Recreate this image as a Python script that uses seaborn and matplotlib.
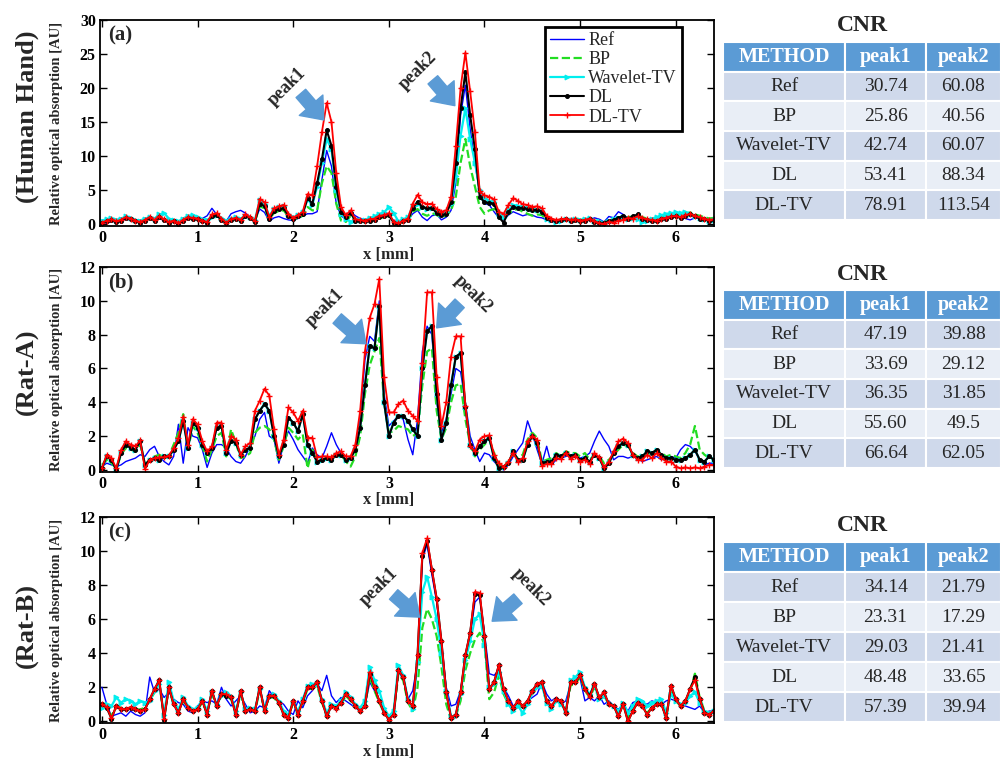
import numpy as np
import pandas as pd
import seaborn as sns
import matplotlib.pyplot as plt

# ---- profile data, sampled every 0.05 mm (rows of 10 = 0.5 mm) ----
STEP = 0.05

# (a) Human Hand
ref_a = [0.0, 0.2, 0.4, 0.3, 0.5, 0.7, 0.6, 0.3, 0.2, 0.5,
         0.8, 0.6, 0.8, 0.5, 0.2, 0.3, 0.2, 0.5, 0.7, 0.9,
         0.6, 0.8, 1.2, 2.3, 1.4, 0.6, 0.4, 1.5, 1.8, 2.0,
         1.6, 1.0, 0.6, 2.2, 1.7, 0.4, 0.9, 1.1, 0.8, 0.6,
         0.5, 0.8, 1.2, 1.5, 1.5, 1.8, 6.5, 10.8, 8.5, 3.0,
         1.2, 0.7, 1.8, 1.2, 0.8, 0.6, 0.4, 0.6, 1.0, 1.1,
         1.3, 0.5, 0.2, 0.4, 0.6, 1.5, 2.0, 1.0, 0.5, 1.2,
         1.4, 0.6, 1.0, 2.0, 6.0, 16.0, 20.4, 14.0, 9.0, 4.5,
         3.0, 2.8, 1.8, 0.9, 0.6, 1.3, 1.8, 1.5, 1.2, 1.4,
         1.3, 1.0, 0.9, 0.6, 0.3, 0.4, 0.5, 0.6, 0.8, 0.7,
         0.5, 0.4, 0.6, 0.9, 0.7, 0.3, 1.1, 0.9, 1.8, 1.4,
         0.8, 1.0, 1.2, 0.9, 0.5, 0.4, 0.6, 0.8, 1.0, 1.2,
         1.3, 1.1, 0.8, 0.6, 0.9, 1.0, 0.7, 0.4, 0.5]
bp_a = [0.3, 0.5, 0.6, 0.4, 0.5, 0.8, 0.7, 0.4, 0.3, 0.5,
        0.8, 0.6, 0.9, 0.7, 0.4, 0.5, 0.3, 0.6, 0.8, 0.9,
        0.7, 0.5, 0.4, 1.1, 1.2, 0.7, 0.3, 0.6, 0.8, 0.6,
        1.1, 0.9, 0.4, 2.6, 2.3, 0.8, 1.6, 1.9, 2.0, 1.1,
        0.6, 0.9, 1.2, 2.5, 2.0, 2.0, 6.0, 8.5, 7.5, 3.0,
        0.5, 0.3, 1.2, 0.4, 0.3, 0.3, 0.5, 0.6, 0.8, 1.0,
        1.2, 0.5, 0.1, 0.3, 0.5, 1.8, 2.2, 1.5, 1.2, 1.6,
        1.3, 1.0, 1.2, 2.0, 4.0, 9.0, 12.5, 8.5, 5.5, 2.5,
        1.5, 2.0, 2.2, 1.2, 0.8, 1.5, 2.0, 2.2, 1.8, 1.5,
        1.2, 1.4, 1.3, 0.7, 0.5, 0.4, 0.6, 0.7, 0.6, 0.8,
        0.7, 0.6, 0.8, 0.5, 0.3, 0.3, 0.5, 0.7, 0.9, 1.1,
        1.0, 1.1, 1.3, 1.0, 0.8, 0.7, 0.8, 1.1, 1.3, 1.5,
        1.6, 1.4, 1.5, 1.7, 1.4, 1.2, 1.0, 0.8, 0.9]
wtv_a = [0.5, 0.7, 0.9, 0.6, 0.8, 1.1, 0.9, 0.6, 0.5, 0.8,
         1.0, 0.8, 1.4, 1.6, 0.8, 0.6, 0.4, 0.8, 1.2, 1.3,
         1.0, 0.7, 0.6, 1.0, 1.3, 0.9, 0.5, 0.8, 1.0, 0.8,
         1.2, 1.0, 0.6, 3.5, 3.0, 1.2, 2.2, 2.5, 2.6, 1.4,
         1.0, 1.3, 1.7, 3.6, 2.8, 5.5, 9.0, 12.5, 11.0, 5.0,
         1.5, 0.8, 0.3, 0.7, 0.6, 0.6, 0.9, 1.1, 1.5, 1.7,
         2.5, 1.6, 0.4, 0.7, 1.0, 2.6, 3.0, 2.5, 2.2, 2.3,
         1.8, 1.5, 1.8, 3.0, 7.0, 13.0, 17.0, 12.5, 9.0, 5.0,
         3.8, 3.4, 3.2, 1.5, 1.0, 2.0, 2.8, 2.6, 2.5, 2.3,
         2.2, 2.0, 1.9, 0.8, 0.6, 0.3, 0.5, 0.7, 0.6, 0.8,
         0.6, 0.7, 0.9, 0.5, 0.4, 0.2, 0.5, 0.7, 0.9, 1.0,
         0.8, 0.9, 0.7, 0.3, 0.5, 0.8, 1.0, 1.3, 1.5, 1.6,
         1.7, 1.6, 1.8, 1.5, 1.2, 0.9, 0.7, 0.5, 0.6]
dl_a = [0.1, 0.4, 0.6, 0.3, 0.5, 0.9, 0.7, 0.4, 0.2, 0.5,
        0.9, 0.5, 1.0, 0.6, 0.2, 0.4, 0.0, 0.5, 0.9, 0.8,
        0.7, 0.4, 0.2, 1.2, 1.3, 0.6, 0.1, 0.6, 0.8, 0.5,
        1.2, 0.9, 0.3, 3.0, 2.6, 0.7, 1.9, 2.2, 2.3, 1.2,
        0.7, 1.1, 1.5, 3.8, 3.0, 6.0, 9.5, 13.8, 11.5, 5.5,
        1.8, 1.0, 1.6, 0.5, 0.4, 0.4, 0.5, 0.6, 1.0, 1.1,
        1.3, 0.2, 0.0, 0.4, 0.6, 2.3, 3.3, 2.5, 2.3, 2.4,
        1.6, 1.3, 1.5, 3.2, 9.0, 17.0, 22.3, 16.0, 11.0, 4.0,
        3.2, 3.1, 3.0, 1.0, 0.2, 1.8, 2.5, 2.3, 2.4, 2.2,
        2.0, 2.1, 1.8, 0.9, 0.6, 0.5, 0.6, 0.7, 0.5, 0.6,
        0.4, 0.5, 0.7, 0.3, 0.1, 0.2, 0.4, 0.6, 0.9, 1.2,
        0.8, 1.1, 1.4, 0.7, 0.6, 0.5, 0.4, 0.7, 0.8, 1.0,
        1.1, 0.9, 1.2, 1.4, 1.1, 0.8, 0.7, 0.5, 0.6]
dltv_a = [0.2, 0.5, 0.7, 0.4, 0.6, 1.0, 0.8, 0.5, 0.3, 0.6,
          1.0, 0.6, 1.1, 0.7, 0.3, 0.5, 0.1, 0.6, 1.0, 0.9,
          0.8, 0.5, 0.3, 1.4, 1.6, 0.8, 0.2, 0.7, 0.9, 0.6,
          1.4, 1.0, 0.4, 3.7, 3.2, 1.0, 2.3, 2.6, 2.8, 1.5,
          0.9, 1.3, 1.8, 4.4, 4.2, 8.5, 13.5, 17.8, 15.0, 7.5,
          2.5, 1.3, 2.0, 0.7, 0.6, 0.5, 0.7, 0.8, 1.2, 1.3,
          1.6, 0.3, 0.1, 0.5, 0.8, 3.0, 4.3, 3.2, 2.9, 3.0,
          2.2, 1.8, 2.0, 4.0, 11.5, 20.0, 25.2, 19.5, 13.5, 4.8,
          4.2, 4.0, 3.6, 1.8, 1.5, 2.8, 3.8, 3.4, 2.9, 2.8,
          2.5, 2.6, 2.3, 1.2, 0.8, 0.6, 0.7, 0.8, 0.6, 0.7,
          0.5, 0.6, 0.8, 0.4, 0.1, 0.0, 0.3, 0.2, 0.5, 0.6,
          0.9, 0.8, 1.1, 0.9, 0.7, 0.6, 0.5, 0.8, 0.9, 1.1,
          1.2, 1.0, 1.3, 1.5, 1.2, 1.0, 0.8, 0.6, 0.7]

# (b) Rat-A
ref_b = [0.2, 0.4, 0.3, 0.2, 0.3, 0.5, 0.6, 0.7, 0.9, 0.8,
         1.2, 1.4, 0.8, 0.5, 0.3, 0.8, 2.7, 0.4, 2.5, 2.0,
         1.9, 1.2, 0.15, 1.0, 1.5, 1.5, 1.3, 0.8, 0.5, 0.4,
         0.8, 1.4, 2.0, 3.0, 3.4, 2.0, 1.8, 0.4, 1.5, 2.3,
         1.8, 1.2, 0.8, 0.4, 1.3, 0.9, 0.7, 1.4, 2.2, 1.5,
         1.0, 0.6, 0.8, 1.3, 3.0, 6.5, 7.9, 7.6, 10.0, 4.5,
         2.6, 2.9, 3.2, 3.0, 1.8, 0.9, 3.0, 7.0, 8.5, 8.0,
         4.0, 2.2, 3.0, 4.5, 6.0, 5.8, 4.0, 2.0, 1.2, 0.5,
         1.0, 0.9, 0.5, 0.2, 0.0, 0.3, 0.8, 1.2, 1.6, 2.9,
         2.1, 1.2, 0.35, 1.4, 0.3, 0.6, 0.7, 0.8, 0.9, 0.8,
         0.7, 0.8, 1.0, 1.7, 2.3, 1.8, 1.4, 0.6, 0.8, 0.8,
         0.7, 0.8, 0.7, 0.5, 0.6, 0.7, 0.8, 0.6, 0.7, 0.8,
         0.7, 1.2, 1.5, 1.4, 1.1, 0.6, 0.3, 0.4, 0.4]
bp_b = [0.3, 0.6, 0.4, 0.1, 0.9, 1.3, 1.2, 1.1, 1.5, 0.3,
        0.6, 0.8, 0.9, 0.7, 0.8, 1.5, 2.2, 3.3, 1.2, 2.6,
        2.2, 1.4, 0.5, 1.2, 2.0, 2.2, 0.8, 2.4, 1.6, 0.7,
        0.8, 1.0, 2.2, 2.5, 2.6, 2.4, 1.8, 0.6, 1.4, 2.5,
        2.2, 1.8, 2.1, 0.1, 1.2, 0.5, 0.6, 0.7, 0.8, 0.9,
        0.9, 0.5, 0.2, 0.8, 2.0, 4.5, 6.2, 7.0, 7.8, 4.0,
        2.2, 2.3, 2.6, 2.5, 2.4, 2.0, 2.2, 5.0, 7.0, 7.2,
        3.5, 1.8, 2.5, 4.0, 5.0, 5.1, 3.0, 1.5, 0.8, 1.2,
        1.5, 1.8, 1.0, 0.3, 0.2, 0.5, 0.9, 0.7, 0.9, 1.8,
        2.2, 1.9, 0.5, 0.6, 0.7, 1.0, 0.8, 1.1, 1.0, 1.0,
        0.8, 1.0, 0.6, 0.9, 0.8, 0.4, 0.6, 0.9, 1.2, 1.5,
        1.4, 1.0, 0.8, 0.8, 1.0, 0.9, 1.1, 1.0, 0.8, 0.9,
        0.8, 0.7, 1.0, 1.5, 2.6, 1.2, 0.9, 0.7, 0.6]
dl_b = [0.1, 0.8, 0.6, 0.0, 1.0, 1.5, 1.3, 1.2, 1.7, 0.3,
        0.6, 0.7, 0.6, 0.8, 0.8, 1.2, 1.7, 2.9, 1.3, 2.8,
        2.5, 1.5, 1.0, 1.3, 2.5, 2.6, 1.0, 1.7, 1.6, 0.9,
        1.2, 1.3, 3.0, 3.5, 3.9, 3.5, 2.0, 0.8, 1.5, 3.1,
        2.8, 2.3, 3.3, 1.5, 1.0, 0.5, 0.6, 0.7, 0.6, 0.9,
        0.9, 0.6, 0.7, 1.2, 2.5, 5.0, 7.3, 7.2, 9.7, 4.0,
        2.0, 2.8, 3.2, 3.2, 2.9, 2.4, 2.0, 6.0, 8.2, 8.5,
        4.5, 1.8, 2.8, 5.0, 6.7, 6.9, 3.75, 1.5, 1.0, 1.4,
        1.7, 1.9, 0.7, 0.1, 0.2, 0.4, 1.1, 0.6, 0.6, 1.5,
        2.0, 1.6, 0.4, 0.5, 0.5, 0.9, 0.8, 1.0, 0.8, 0.9,
        0.6, 0.7, 0.5, 0.9, 0.7, 0.1, 0.4, 1.0, 1.4, 1.6,
        1.5, 0.9, 0.7, 0.8, 1.1, 1.0, 1.2, 0.9, 0.7, 0.7,
        0.6, 0.6, 0.7, 0.9, 1.2, 0.6, 0.5, 0.8, 0.6]
wtv_b = dl_b  # Wavelet-TV is hidden under the DL curve in (b)
dltv_b = [0.1, 0.9, 0.7, 0.1, 1.2, 1.7, 1.5, 1.4, 1.75, 0.05,
          0.6, 0.7, 0.75, 0.75, 0.85, 1.3, 1.9, 3.15, 1.5, 3.0,
          2.7, 1.7, 1.1, 1.4, 2.8, 2.8, 1.2, 2.0, 1.8, 0.9,
          1.4, 1.6, 3.5, 4.1, 4.8, 4.4, 2.4, 0.9, 1.8, 3.7,
          3.4, 2.9, 3.5, 1.9, 1.9, 0.75, 0.8, 0.8, 0.75, 1.0,
          1.1, 0.8, 0.8, 1.5, 3.5, 7.0, 9.0, 9.8, 11.3, 5.5,
          3.4, 3.4, 3.9, 4.1, 3.5, 3.2, 2.9, 6.3, 10.5, 10.5,
          5.5, 2.6, 4.0, 6.7, 7.9, 7.9, 3.8, 1.4, 1.1, 1.8,
          2.0, 2.05, 0.9, 0.4, 0.2, 0.5, 1.0, 0.5, 0.7, 1.7,
          2.0, 1.8, 0.25, 0.35, 0.35, 0.7, 0.65, 1.0, 0.65, 0.85,
          0.5, 0.6, 0.35, 1.0, 0.75, 0.15, 0.5, 1.1, 1.7, 1.85,
          1.6, 0.9, 0.6, 0.6, 0.9, 0.7, 1.0, 0.7, 0.5, 0.5,
          0.2, 0.1, 0.15, 0.1, 0.15, 0.1, 0.2, 0.3, 0.3]

# (c) Rat-B
ref_c = [2.0, 1.0, 0.3, 0.4, 0.5, 0.3, 0.6, 0.4, 0.3, 0.5,
         2.6, 1.7, 1.9, 1.4, 1.7, 1.3, 1.1, 1.0, 0.6, 0.5,
         0.9, 1.2, 1.1, 1.2, 1.0, 2.0, 1.3, 0.9, 1.2, 1.5,
         1.0, 0.5, 0.6, 0.9, 0.8, 1.8, 1.4, 1.2, 1.0, 0.6,
         0.4, 1.2, 0.8, 1.5, 1.8, 2.2, 1.8, 2.7, 1.5, 1.1,
         1.4, 1.2, 1.0, 0.8, 0.6, 0.9, 2.3, 1.8, 1.2, 0.6,
         0.3, 0.3, 2.9, 2.5, 1.3, 1.8, 3.5, 9.5, 10.4, 8.6,
         7.0, 4.6, 2.0, 0.9, 1.0, 1.8, 3.7, 5.0, 7.0, 7.3,
         5.2, 2.8, 2.7, 3.0, 2.0, 1.5, 0.9, 1.0, 0.8, 1.2,
         1.4, 1.6, 2.3, 1.6, 1.2, 1.4, 1.0, 1.2, 2.2, 2.4,
         2.5, 1.2, 1.4, 1.2, 1.5, 1.0, 1.2, 0.9, 0.7, 1.0,
         0.6, 1.1, 1.2, 1.1, 1.0, 1.2, 1.1, 1.0, 1.2, 1.3,
         1.2, 1.0, 0.9, 0.8, 0.7, 0.9, 0.5, 0.6, 0.6]
bp_c = [1.0, 0.8, 0.3, 0.9, 0.8, 0.7, 0.8, 0.7, 0.7, 0.8,
        1.2, 1.7, 2.2, 0.3, 1.9, 1.0, 0.6, 1.2, 0.8, 0.6,
        0.7, 1.1, 0.5, 1.6, 0.9, 1.5, 1.5, 1.3, 0.5, 1.6,
        0.6, 0.7, 0.6, 1.8, 0.7, 1.4, 1.4, 1.0, 0.5, 0.3,
        1.1, 0.5, 1.1, 1.9, 1.9, 2.1, 1.1, 0.4, 0.9, 0.8,
        1.0, 1.5, 1.2, 0.9, 0.6, 0.9, 2.6, 1.8, 1.1, 0.5,
        0.2, 0.4, 2.8, 2.4, 1.1, 0.6, 2.0, 5.5, 6.6, 6.0,
        5.0, 3.2, 1.0, 0.1, 0.3, 1.2, 3.0, 4.0, 4.8, 5.2,
        4.5, 1.3, 1.7, 2.7, 1.6, 1.0, 0.7, 1.0, 0.8, 1.1,
        1.6, 2.0, 2.1, 1.1, 0.8, 1.2, 1.1, 0.6, 2.1, 2.2,
        2.6, 1.8, 1.4, 2.0, 1.3, 1.5, 1.0, 0.9, 0.4, 1.0,
        0.2, 0.7, 1.1, 0.9, 0.5, 0.8, 1.0, 1.0, 0.3, 1.8,
        1.2, 0.9, 1.1, 1.8, 2.8, 1.4, 0.6, 0.5, 0.6]
wtv_c = [0.8, 1.0, 0.9, 1.4, 1.1, 1.3, 1.2, 1.0, 1.2, 1.1,
         1.2, 1.8, 2.2, 0.4, 2.3, 1.2, 0.7, 1.4, 0.9, 0.7,
         0.8, 1.3, 0.6, 1.7, 1.0, 1.5, 1.7, 1.5, 0.6, 1.7,
         0.7, 0.8, 0.7, 1.9, 0.8, 1.4, 1.6, 1.2, 0.6, 0.4,
         1.1, 0.6, 1.3, 2.1, 2.2, 2.2, 1.3, 0.5, 1.0, 0.9,
         1.2, 1.7, 1.4, 1.0, 0.8, 1.2, 3.2, 2.4, 1.8, 0.8,
         0.3, 0.6, 3.3, 2.7, 1.3, 0.7, 3.5, 7.6, 8.5, 7.3,
         6.0, 4.0, 1.8, 0.3, 0.3, 1.6, 3.6, 4.7, 6.0, 6.3,
         4.5, 2.0, 2.2, 2.9, 1.8, 1.0, 0.6, 0.9, 0.5, 1.0,
         1.7, 2.0, 2.1, 1.1, 0.7, 1.2, 1.0, 0.6, 2.4, 2.6,
         2.9, 2.0, 1.6, 2.1, 1.3, 1.5, 1.1, 0.9, 0.6, 1.1,
         0.5, 0.9, 1.3, 1.2, 0.9, 1.1, 1.2, 1.3, 0.5, 1.6,
         1.2, 1.0, 1.1, 1.5, 1.7, 1.1, 0.6, 0.5, 0.6]
dl_c = [1.0, 0.8, 0.15, 0.9, 0.7, 0.7, 0.8, 0.7, 0.6, 0.7,
        1.3, 1.9, 2.4, 0.1, 2.0, 1.0, 0.5, 1.3, 0.8, 0.6,
        0.7, 1.2, 0.4, 1.8, 0.9, 1.6, 1.5, 1.4, 0.4, 1.8,
        0.6, 0.7, 0.6, 2.0, 0.6, 1.5, 1.5, 1.1, 0.4, 0.2,
        1.2, 0.4, 1.2, 2.0, 2.0, 2.3, 1.2, 0.3, 0.9, 0.8,
        1.1, 1.6, 1.3, 0.9, 0.6, 0.9, 2.8, 2.0, 1.2, 0.5,
        0.1, 0.4, 3.0, 2.6, 1.2, 0.9, 3.9, 9.7, 10.6, 8.9,
        7.2, 4.7, 1.7, 0.2, 0.4, 1.7, 3.9, 5.2, 7.5, 7.4,
        5.0, 1.9, 2.3, 3.3, 1.9, 1.2, 0.8, 1.2, 0.9, 1.2,
        1.8, 2.2, 2.3, 1.2, 0.9, 1.3, 1.2, 0.5, 2.3, 2.3,
        2.7, 1.9, 1.5, 2.2, 1.4, 1.7, 1.0, 0.9, 0.3, 1.0,
        0.0, 0.6, 1.1, 0.9, 0.4, 0.8, 1.0, 1.0, 0.2, 2.1,
        1.3, 0.9, 1.2, 1.9, 2.6, 1.3, 0.5, 0.4, 0.6]
dltv_c = [1.0, 0.85, 0.17, 0.9, 0.75, 0.7, 0.85, 0.7, 0.6, 0.7,
          1.3, 1.9, 2.4, 0.15, 2.0, 1.0, 0.5, 1.3, 0.8, 0.6,
          0.7, 1.2, 0.4, 1.8, 0.9, 1.6, 1.6, 1.4, 0.4, 1.8,
          0.6, 0.7, 0.6, 2.0, 0.6, 1.5, 1.5, 1.1, 0.4, 0.2,
          1.2, 0.4, 1.2, 2.0, 2.0, 2.3, 1.2, 0.3, 0.9, 0.75,
          1.1, 1.6, 1.3, 0.9, 0.6, 0.9, 2.9, 2.0, 1.2, 0.5,
          0.1, 0.4, 3.0, 2.6, 1.2, 0.9, 3.9, 9.9, 10.75, 8.9,
          7.2, 4.7, 1.7, 0.2, 0.4, 1.7, 3.9, 5.2, 7.6, 7.55,
          5.0, 1.9, 2.3, 3.3, 1.9, 1.2, 0.8, 1.2, 0.9, 1.2,
          1.8, 2.2, 2.3, 1.2, 0.9, 1.3, 1.2, 0.5, 2.3, 2.3,
          2.7, 1.9, 1.4, 2.2, 1.4, 1.7, 1.0, 0.9, 0.3, 1.0,
          0.0, 0.6, 1.1, 0.9, 0.4, 0.8, 1.0, 1.0, 0.2, 2.1,
          1.3, 0.9, 1.2, 1.9, 2.4, 1.3, 0.5, 0.4, 0.6]

# ---- CNR tables ----
methods = ["Ref", "BP", "Wavelet-TV", "DL", "DL-TV"]
table_header = ["METHOD", "peak1", "peak2"]
cnr_a_peak1 = ["30.74", "25.86", "42.74", "53.41", "78.91"]
cnr_a_peak2 = ["60.08", "40.56", "60.07", "88.34", "113.54"]
cnr_b_peak1 = ["47.19", "33.69", "36.35", "55.60", "66.64"]
cnr_b_peak2 = ["39.88", "29.12", "31.85", "49.5", "62.05"]
cnr_c_peak1 = ["34.14", "23.31", "29.03", "48.48", "57.39"]
cnr_c_peak2 = ["21.79", "17.29", "21.41", "33.65", "39.94"]

row_titles = ["(Human Hand)", "(Rat-A)", "(Rat-B)"]
panel_tags = ["(a)", "(b)", "(c)"]

sns.set_theme(style="ticks")
plt.rcParams["font.family"] = ["Liberation Serif", "DejaVu Serif"]

styles = {
    "Ref": dict(color="#0000ff", lw=1.0),
    "BP": dict(color="#22dd22", lw=1.6, linestyle="--"),
    "Wavelet-TV": dict(color="#00eeee", lw=1.6, marker=">", ms=3.5, mec="#00eeee", mfc="#00eeee"),
    "DL": dict(color="black", lw=1.5, marker="o", ms=2.8, mec="black", mfc="black"),
    "DL-TV": dict(color="#ff0000", lw=1.3, marker="+", ms=5, mew=1.0, mec="#ff0000"),
}

panels = [
    dict(series=[ref_a, bp_a, wtv_a, dl_a, dltv_a], cnr=(cnr_a_peak1, cnr_a_peak2),
         ylim=(-0.3, 30), yticks=range(0, 31, 5), rect=(0.0995, 0.7038, 0.611, 0.270),
         trect=(0.7194, 0.7117, 0.2766, 0.2333),
         arrows=[((1.94, 20.2), (2.08, 19.2), (2.32, 15.3), 45),
                 ((3.30, 22.6), (3.46, 21.2), (3.69, 17.4), 45)]),
    dict(series=[ref_b, bp_b, wtv_b, dl_b, dltv_b], cnr=(cnr_b_peak1, cnr_b_peak2),
         ylim=(-0.12, 12), yticks=range(0, 13, 2), rect=(0.0995, 0.3814, 0.611, 0.2687),
         trect=(0.7194, 0.3866, 0.2766, 0.2333),
         arrows=[((2.33, 9.6), (2.46, 8.95), (2.76, 7.46), 45),
                 ((3.88, 10.4), (3.74, 9.85), (3.50, 8.4), -45)]),
    dict(series=[ref_c, bp_c, wtv_c, dl_c, dltv_c], cnr=(cnr_c_peak1, cnr_c_peak2),
         ylim=(-0.1, 12), yticks=range(0, 13, 2), rect=(0.0995, 0.0524, 0.611, 0.270),
         trect=(0.7194, 0.0537, 0.2766, 0.2359),
         arrows=[((2.90, 7.9), (3.05, 7.45), (3.32, 6.12), 45),
                 ((4.49, 7.9), (4.35, 7.2), (4.08, 5.88), -45)]),
]

fig = plt.figure(figsize=(10.05, 7.63), dpi=100)
title_y = [0.8467, 0.5124, 0.1796]

for k, p in enumerate(panels):
    ax = fig.add_axes(p["rect"])
    for name, vals in zip(methods, p["series"]):
        xs = STEP * np.arange(len(vals))
        sns.lineplot(x=xs, y=vals, ax=ax, legend=False, label=name,
                     sort=False, **styles[name])
    ax.set_xlim(-0.02, 6.4)
    ax.set_ylim(*p["ylim"])
    ax.set_xticks(range(0, 7))
    ax.set_yticks(list(p["yticks"]))
    ax.tick_params(direction="in", top=True, right=True, length=5, width=1,
                   labelsize=11.5, pad=3, colors="black")
    for lab in ax.get_xticklabels() + ax.get_yticklabels():
        lab.set_fontweight("bold")
    for sp in ax.spines.values():
        sp.set_linewidth(1.3)
        sp.set_color("black")
    ax.set_xlabel("x [mm]", fontsize=12, fontweight="bold")
    ax.xaxis.set_label_coords(0.47, -0.1)
    ax.set_ylabel("Relative optical absorption [AU]", fontsize=10.5, fontweight="bold")
    ax.yaxis.set_label_coords(-0.06, 0.5)
    ax.text(0.013, 0.975, panel_tags[k], transform=ax.transAxes, fontsize=15,
            fontweight="bold", va="top", ha="left")

    for j, ((tx, ty), tail, tip, rot) in enumerate(p["arrows"]):
        ax.annotate("", xy=tip, xytext=tail,
                    arrowprops=dict(arrowstyle="simple,head_length=1.0,head_width=1.6,tail_width=0.65",
                                    mutation_scale=14, color="#5b9bd5", shrinkA=0, shrinkB=0))
        ax.text(tx, ty, "peak%d" % (j + 1), rotation=rot, fontsize=13, fontweight="bold",
                ha="center", va="center")

    if k == 0:
        ax.legend(loc="upper right", bbox_to_anchor=(0.948, 0.968), fontsize=13,
                  frameon=True, fancybox=False, framealpha=1, edgecolor="black",
                  borderpad=0.3, labelspacing=0.12, handlelength=1.9,
                  handletextpad=0.2, borderaxespad=0).get_frame().set_linewidth(2)

    fig.text(0.027, title_y[k], row_titles[k], rotation=90, fontsize=19,
             fontweight="bold", ha="center", va="center")

    # CNR table
    tax = fig.add_axes(p["trect"])
    tax.axis("off")
    cells = pd.DataFrame({"m": methods, "p1": p["cnr"][0], "p2": p["cnr"][1]})
    tb = tax.table(cellText=cells.values.tolist(), colLabels=table_header,
                   cellLoc="center", bbox=[0, 0, 1, 1], colWidths=[0.44, 0.29, 0.27])
    tb.auto_set_font_size(False)
    tb.set_fontsize(14)
    for (r, c), cell in tb.get_celld().items():
        cell.set_edgecolor("white")
        cell.set_linewidth(1.5)
        if r == 0:
            cell.set_facecolor("#5b9bd5")
            cell.get_text().set_color("white")
            cell.get_text().set_fontweight("bold")
            cell.get_text().set_fontsize(14.5)
        else:
            cell.set_facecolor("#cfd9eb" if r % 2 == 1 else "#e9eef6")
    tax.text(0.5, 1.0 + 16 / 178, "CNR", transform=tax.transAxes, fontsize=17,
             fontweight="bold", ha="center", va="center")

fig.savefig("out.png", dpi=100)
